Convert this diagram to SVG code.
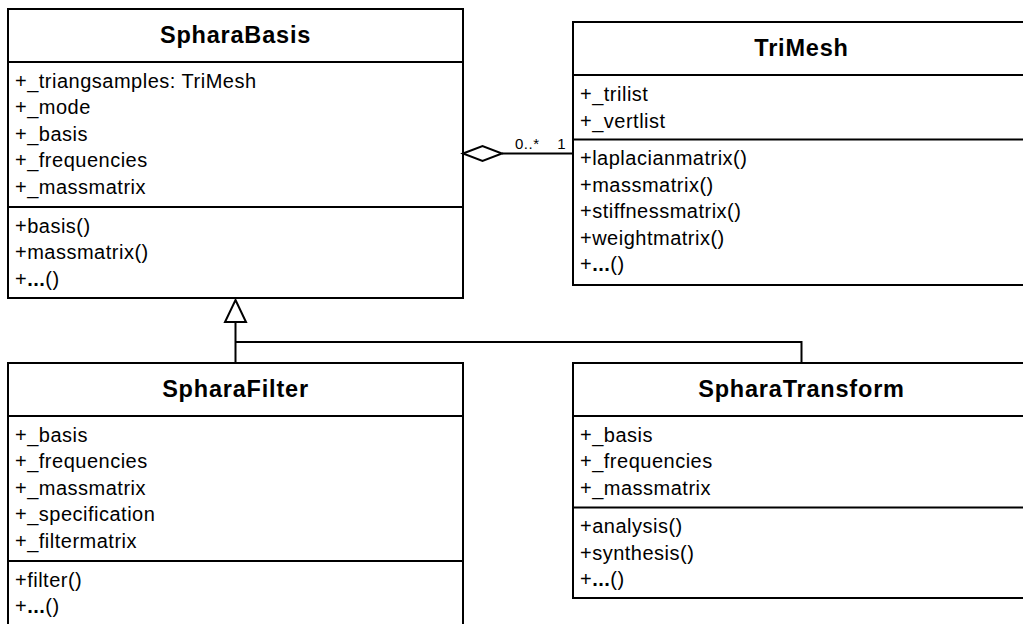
<svg xmlns="http://www.w3.org/2000/svg" width="1023" height="624" viewBox="0 0 1023 624">
<style>
.box{fill:#fff;stroke:#000;stroke-width:2}
.dv{stroke:#000;stroke-width:2;fill:none}
.t{font-family:"Liberation Sans",Arial,sans-serif;font-weight:bold;font-size:23.5px;letter-spacing:0.8px;text-anchor:middle;fill:#000}
.m{font-family:"Liberation Sans",Arial,sans-serif;font-size:20px;letter-spacing:0.5px;fill:#000}
.lb{font-family:"Liberation Sans",Arial,sans-serif;font-size:15px;letter-spacing:0.5px;fill:#000}
.b{font-weight:bold}
.cn{stroke:#000;stroke-width:2;fill:none}
</style>
<rect width="1023" height="624" fill="#fff"/>
<g id="SpharaBasis">
<rect class="box" x="8" y="9" width="455" height="289"/>
<path class="dv" d="M8 62H463M8 207H463"/>
<text class="t" x="235.5" y="43">SpharaBasis</text>
<text class="m" x="15" y="87.5">+_triangsamples: TriMesh</text>
<text class="m" x="15" y="114">+_mode</text>
<text class="m" x="15" y="140.5">+_basis</text>
<text class="m" x="15" y="167">+_frequencies</text>
<text class="m" x="15" y="193.5">+_massmatrix</text>
<text class="m" x="15" y="232.5">+basis()</text>
<text class="m" x="15" y="259">+massmatrix()</text>
<text class="m" x="15" y="285.5">+<tspan class="b">...</tspan>()</text>
</g>
<g id="TriMesh">
<rect class="box" x="573" y="22" width="460" height="263"/>
<path class="dv" d="M573 75H1033M573 139.5H1033"/>
<text class="t" x="801.5" y="56">TriMesh</text>
<text class="m" x="580" y="101">+_trilist</text>
<text class="m" x="580" y="127.5">+_vertlist</text>
<text class="m" x="580" y="165">+laplacianmatrix()</text>
<text class="m" x="580" y="191.5">+massmatrix()</text>
<text class="m" x="580" y="218">+stiffnessmatrix()</text>
<text class="m" x="580" y="244.5">+weightmatrix()</text>
<text class="m" x="580" y="271">+<tspan class="b">...</tspan>()</text>
</g>
<g id="SpharaFilter">
<rect class="box" x="8" y="363" width="455" height="263"/>
<path class="dv" d="M8 416H463M8 561H463"/>
<text class="t" x="235.5" y="397">SpharaFilter</text>
<text class="m" x="15" y="441.5">+_basis</text>
<text class="m" x="15" y="468">+_frequencies</text>
<text class="m" x="15" y="494.5">+_massmatrix</text>
<text class="m" x="15" y="521">+_specification</text>
<text class="m" x="15" y="547.5">+_filtermatrix</text>
<text class="m" x="15" y="586.5">+filter()</text>
<text class="m" x="15" y="613">+<tspan class="b">...</tspan>()</text>
</g>
<g id="SpharaTransform">
<rect class="box" x="573" y="363" width="460" height="235"/>
<path class="dv" d="M573 416H1033M573 507.5H1033"/>
<text class="t" x="801.5" y="397">SpharaTransform</text>
<text class="m" x="580" y="441.5">+_basis</text>
<text class="m" x="580" y="468">+_frequencies</text>
<text class="m" x="580" y="494.5">+_massmatrix</text>
<text class="m" x="580" y="533">+analysis()</text>
<text class="m" x="580" y="559.5">+synthesis()</text>
<text class="m" x="580" y="586">+<tspan class="b">...</tspan>()</text>
</g>
<g id="connectors">
<path class="cn" d="M502 153.5H573"/>
<polygon class="cn" points="463,153.5 482.5,146 502,153.5 482.5,161" style="fill:#fff"/>
<text class="lb" x="515" y="148.5">0..*</text>
<text class="lb" x="566" y="148.5" text-anchor="end">1</text>
<path class="cn" d="M235.5 363V322M801.5 363V342H235.5"/>
<polygon class="cn" points="235.5,300 246,322 225,322" style="fill:#fff"/>
</g>
</svg>
